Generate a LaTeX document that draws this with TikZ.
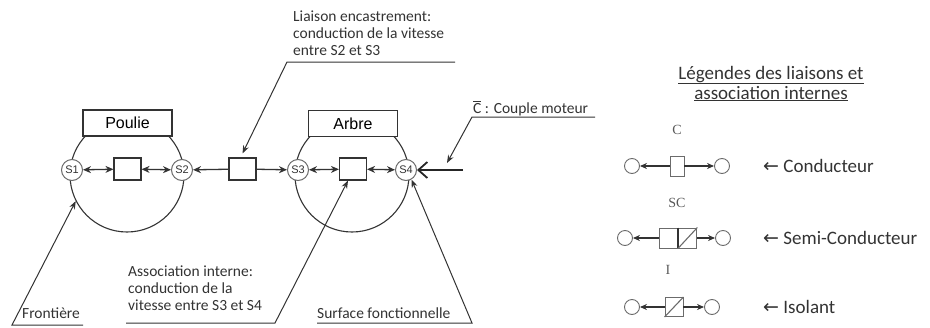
\documentclass[tikz,border=0pt]{standalone}
\usepackage{fontspec}
\setmainfont{Carlito}
\newfontfamily\arialfont{Liberation Sans}
\newfontfamily\serifont{Liberation Serif}
\newfontfamily\arrowfont{DejaVu Sans}
\usetikzlibrary{arrows.meta}

\definecolor{trait}{gray}{0.2}
\definecolor{texte}{gray}{0.2}
\definecolor{contour}{gray}{0.42}

\begin{document}
\begin{tikzpicture}[
    x=1pt, y=-1pt,
    surf/.style = {
        circle, draw=contour, line width=1pt, fill=white, minimum size=21pt, inner sep=0pt,
        font=\arialfont\fontsize{11}{11}\selectfont, text=black!80
    },
    assoc/.style = {
        rectangle, draw=trait, line width=1.1pt, fill=white,
        minimum width=27pt, minimum height=22pt, inner sep=0pt
    },
    piece/.style = {
        rectangle, draw=trait, line width=1.1pt, fill=white,
        minimum width=89pt, minimum height=26pt,
        font=\arialfont\fontsize{16}{16}\selectfont
    },
    frontiere/.style = {circle, draw=trait, line width=1.1pt, minimum size=114pt, inner sep=0pt},
    note/.style = {font=\fontsize{15.5}{17}\selectfont, text=texte, align=left, inner sep=0pt},
    legende/.style = {font=\fontsize{19}{20}\selectfont, text=texte, inner sep=0pt},
    lettre/.style = {font=\serifont\fontsize{14}{14}\selectfont, text=black!65, inner sep=0pt},
    bille/.style = {circle, draw=contour, line width=0.9pt, minimum size=15pt, inner sep=0pt},
    carre/.style = {rectangle, draw=contour, line width=0.9pt, inner sep=0pt},
    lien/.style = {
        {Stealth[length=8pt,width=7pt]}-{Stealth[length=8pt,width=7pt]},
        line width=1.3pt, draw=trait
    },
    fleche/.style = {-{Stealth[length=8pt,width=7pt]}, line width=1.3pt, draw=trait},
    fleche leg/.style = {-{Stealth[length=7pt,width=6pt]}, line width=1.1pt, draw=trait},
    rappel/.style = {-{Stealth[length=8pt,width=6pt]}, line width=1pt, draw=trait},
]
\useasboundingbox (0,0) rectangle (930,327);

% ── Frontieres et pieces ──
\node[frontiere] (f-poulie) at (127,175) {};
\node[frontiere] (f-arbre)  at (352,175) {};
\node[piece] (poulie) at (127.5,123) {Poulie};
\node[piece] (arbre)  at (353,123.5) {Arbre};

% ── Surfaces fonctionnelles ──
\node[surf] (s1) at (72,170)  {S1};
\node[surf] (s2) at (182,170) {S2};
\node[surf] (s3) at (298,170) {S3};
\node[surf] (s4) at (406,170) {S4};

% ── Associations et liaison ──
\node[assoc] (a-poulie) at (127.5,169) {};
\node[assoc] (encas)    at (242.5,169) {};
\node[assoc] (a-arbre)  at (353,169)   {};

\draw[lien] (s1) -- (a-poulie);
\draw[lien] (a-poulie) -- (s2);
\draw[fleche] (encas) -- (s2);
\draw[fleche] (encas) -- (s3);
\draw[lien] (s3) -- (a-arbre);
\draw[lien] (a-arbre) -- (s4);

% ── Couple moteur ──
\coordinate (c-depart) at (463,170);
\draw[line width=2pt, draw=black!85,
      -{Straight Barb[length=9pt,width=16pt,line width=1.8pt]}] (c-depart) -- (s4);

% ── Annotations ──
\node[note, anchor=north west] (n-liaison) at (293,11)
    {Liaison encastrement:\\conduction de la vitesse\\entre S2 et S3};
\coordinate (u-liaison-g) at (287,62);
\coordinate (u-liaison-d) at (455,62);
\draw[rappel] (u-liaison-d) -- (u-liaison-g) -- ([yshift=4pt]encas.north);

\node[note, anchor=base west] (n-couple) at (473,113) {$\overline{\mbox{C}}$ : Couple moteur};
\coordinate (u-couple-g) at (472,117);
\coordinate (u-couple-d) at (595,117);
\coordinate (p-couple)   at (447,163);
\draw[rappel] (u-couple-d) -- (u-couple-g) -- (p-couple);

\node[note, anchor=north west] (n-assoc) at (128,266)
    {Association interne:\\conduction de la\\vitesse entre S3 et S4};
\coordinate (u-assoc-g) at (126,323);
\coordinate (u-assoc-d) at (275,323);
\draw[rappel] (u-assoc-g) -- (u-assoc-d) -- ([xshift=-5pt]a-arbre.south);

\node[note, anchor=base west] (n-front) at (22,318) {Frontière};
\coordinate (u-front-g) at (12,325);
\coordinate (u-front-d) at (83,325);
\draw[rappel] (u-front-d) -- (u-front-g) -- (f-poulie.207);

\node[note, anchor=base west] (n-surf) at (317,318) {Surface fonctionnelle};
\coordinate (u-surf-g) at (317,323);
\coordinate (u-surf-d) at (472,323);
\draw[rappel] (u-surf-g) -- (u-surf-d) -- (s4.-60);

% ── Legende ──
\node[legende, anchor=base] (l-titre1) at (771,79) {\underline{Légendes des liaisons et}};
\node[legende, anchor=base] (l-titre2) at (771,99) {\underline{association internes}};

% conducteur
\node[lettre] (l-c) at (677,130) {C};
\node[bille] (c-g) at (632,166) {};
\node[carre, minimum width=14pt, minimum height=20pt] (c-box) at (677,166) {};
\node[bille] (c-d) at (722,166) {};
\draw[fleche leg] (c-box) -- (c-g);
\draw[fleche leg] (c-box) -- (c-d);
\node[legende, anchor=west] (c-txt) at (763,166) {{\arrowfont ←} Conducteur};

% semi-conducteur
\node[lettre] (l-sc) at (677,203) {SC};
\node[bille] (sc-g) at (625,238) {};
\node[carre, minimum width=18.5pt, minimum height=20pt] (sc-a) at (668.25,238) {};
\node[carre, minimum width=18.5pt, minimum height=20pt, anchor=west] (sc-b) at (sc-a.east) {};
\draw[line width=2pt, draw=trait] (sc-a.north east) -- (sc-a.south east);
\draw[contour, line width=1.1pt] (sc-b.south west) -- (sc-b.north east);
\node[bille] (sc-d) at (723,238) {};
\draw[fleche leg] (sc-a) -- (sc-g);
\draw[fleche leg] (sc-b) -- (sc-d);
\node[legende, anchor=west] (sc-txt) at (763,238) {{\arrowfont ←} Semi-Conducteur};

% isolant
\node[lettre] (l-i) at (668,270) {I};
\node[bille] (i-g) at (632,307) {};
\node[carre, minimum width=18pt, minimum height=19pt] (i-box) at (674,307) {};
\draw[contour, line width=1.1pt] (i-box.south west) -- (i-box.north east);
\node[bille] (i-d) at (712,307) {};
\draw[fleche leg] (i-box) -- (i-g);
\draw[fleche leg] (i-box) -- (i-d);
\node[legende, anchor=west] (i-txt) at (763,307) {{\arrowfont ←} Isolant};

\end{tikzpicture}
\end{document}
